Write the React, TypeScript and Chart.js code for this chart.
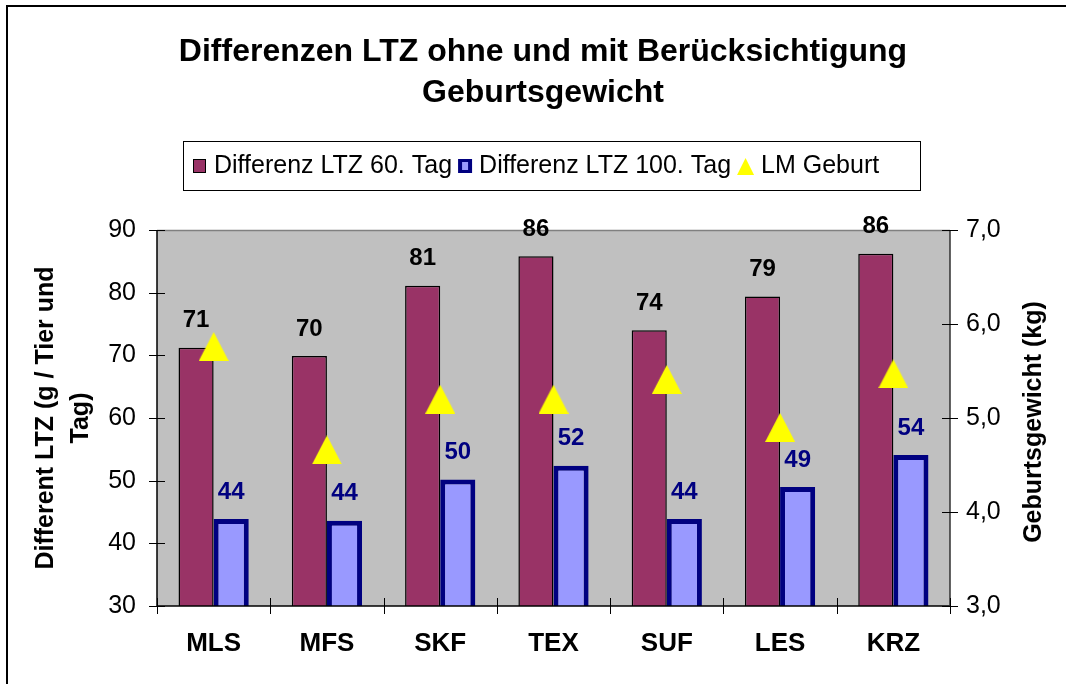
import React, { useEffect, useRef } from 'react';
import { Chart, registerables } from 'chart.js';

Chart.register(...registerables);

const categories = ['MLS', 'MFS', 'SKF', 'TEX', 'SUF', 'LES', 'KRZ'];
const diff60 = [71.2, 69.9, 81.1, 85.8, 74.0, 79.4, 86.2];
const diff100 = [43.9, 43.6, 50.2, 52.4, 43.9, 49.0, 54.1];
const lmGeburt = [5.76, 4.66, 5.2, 5.2, 5.41, 4.9, 5.47];
const seriesNames = ['Differenz LTZ 60. Tag', 'Differenz LTZ 100. Tag', 'LM Geburt'];
const titleLines = ['Differenzen LTZ ohne und mit Berücksichtigung', 'Geburtsgewicht'];
const leftTitleLines = ['Different LTZ (g / Tier und', 'Tag)'];
const rightTitle = 'Geburtsgewicht (kg)';
const leftMin = 30;
const leftMax = 90;
const leftStep = 10;
const rightMin = 3;
const rightMax = 7;
const rightStep = 1;

const FONT = '"Liberation Sans", Arial, Helvetica, sans-serif';
const MAROON = '#993366';
const LIGHTBLUE = '#9999FF';
const NAVY = '#000080';
const YELLOW = '#FFFF00';

const decorPlugin = {
  id: 'decor',
  beforeDraw(chart: any) {
    const { ctx, chartArea: a } = chart;
    ctx.save();
    ctx.fillStyle = '#ffffff';
    ctx.fillRect(0, 0, chart.width, chart.height);
    ctx.strokeStyle = '#000';
    ctx.lineWidth = 2;
    ctx.beginPath();
    ctx.moveTo(7, chart.height + 4);
    ctx.lineTo(7, 6);
    ctx.lineTo(chart.width + 4, 6);
    ctx.stroke();
    ctx.fillStyle = '#C0C0C0';
    ctx.fillRect(a.left, a.top, a.right - a.left, a.bottom - a.top);
    ctx.restore();
  },
  afterDatasetsDraw(chart: any) {
    const { ctx, chartArea: a, scales } = chart;
    ctx.save();
    ctx.strokeStyle = '#808080';
    ctx.lineWidth = 1.5;
    ctx.beginPath();
    ctx.moveTo(a.left, a.top + 0.5);
    ctx.lineTo(a.right, a.top + 0.5);
    ctx.stroke();
    ctx.strokeStyle = '#000';
    ctx.lineWidth = 1.5;
    ctx.beginPath();
    ctx.moveTo(a.left, a.top);
    ctx.lineTo(a.left, a.bottom);
    ctx.lineTo(a.right, a.bottom);
    ctx.stroke();
    ctx.strokeStyle = '#303030';
    ctx.beginPath();
    ctx.moveTo(a.right, a.top);
    ctx.lineTo(a.right, a.bottom);
    ctx.stroke();
    ctx.lineWidth = 1;
    ctx.strokeStyle = '#000';
    ctx.beginPath();
    scales.y.ticks.forEach((t: any) => {
      const py = Math.round(scales.y.getPixelForValue(t.value)) + 0.5;
      ctx.moveTo(a.left - 8, py);
      ctx.lineTo(a.left + 8, py);
    });
    scales.y1.ticks.forEach((t: any) => {
      const py = Math.round(scales.y1.getPixelForValue(t.value)) + 0.5;
      ctx.moveTo(a.right - 8, py);
      ctx.lineTo(a.right + 8, py);
    });
    const xs = scales.x;
    const n = categories.length;
    for (let i = 0; i <= n; i++) {
      let px;
      if (i === 0) px = a.left;
      else if (i === n) px = a.right;
      else px = (xs.getPixelForValue(i - 1) + xs.getPixelForValue(i)) / 2;
      px = Math.round(px) + 0.5;
      ctx.moveTo(px, a.bottom - 8);
      ctx.lineTo(px, a.bottom + 8);
    }
    ctx.stroke();

    ctx.font = `bold 24px ${FONT}`;
    ctx.textAlign = 'center';
    ctx.textBaseline = 'middle';
    const m0 = chart.getDatasetMeta(0);
    ctx.fillStyle = '#000';
    m0.data.forEach((bar: any, i: number) => {
      ctx.fillText(String(Math.round(diff60[i])), bar.x, bar.y - 27);
    });
    const m1 = chart.getDatasetMeta(1);
    ctx.fillStyle = NAVY;
    m1.data.forEach((bar: any, i: number) => {
      ctx.fillText(String(Math.round(diff100[i])), bar.x, bar.y - 27);
    });
    ctx.restore();
  },
  afterDraw(chart: any) {
    const { ctx } = chart;
    ctx.save();
    ctx.fillStyle = '#000';
    ctx.textAlign = 'center';
    ctx.textBaseline = 'middle';
    ctx.font = `bold 32px ${FONT}`;
    titleLines.forEach((line, i) => ctx.fillText(line, 543, 52 + i * 41));

    ctx.font = `bold 25px ${FONT}`;
    leftTitleLines.forEach((line, i) => {
      ctx.save();
      ctx.translate(46 + i * 35, 418);
      ctx.rotate(-Math.PI / 2);
      ctx.fillText(line, 0, 0);
      ctx.restore();
    });
    ctx.save();
    ctx.translate(1034, 422);
    ctx.rotate(-Math.PI / 2);
    ctx.fillText(rightTitle, 0, 0);
    ctx.restore();

    ctx.fillStyle = '#fff';
    ctx.fillRect(183, 141, 737, 49);
    ctx.strokeStyle = '#000';
    ctx.lineWidth = 1;
    ctx.strokeRect(183.5, 141.5, 737, 49);
    ctx.font = `25px ${FONT}`;
    ctx.textAlign = 'left';
    const cy = 166;
    let x = 193;
    ctx.fillStyle = MAROON;
    ctx.fillRect(x, cy - 7, 13, 14);
    ctx.strokeStyle = '#000';
    ctx.strokeRect(x + 0.5, cy - 6.5, 12, 13);
    x += 21;
    ctx.fillStyle = '#000';
    ctx.fillText(seriesNames[0], x, cy);
    x += ctx.measureText(seriesNames[0]).width + 6;
    ctx.fillStyle = NAVY;
    ctx.fillRect(x, cy - 7, 14, 14);
    ctx.fillStyle = LIGHTBLUE;
    ctx.fillRect(x + 4, cy - 4, 6, 8);
    x += 21;
    ctx.fillStyle = '#000';
    ctx.fillText(seriesNames[1], x, cy);
    x += ctx.measureText(seriesNames[1]).width + 6;
    ctx.fillStyle = YELLOW;
    ctx.beginPath();
    ctx.moveTo(x, cy + 9);
    ctx.lineTo(x + 8.5, cy - 8);
    ctx.lineTo(x + 17, cy + 9);
    ctx.closePath();
    ctx.fill();
    x += 24;
    ctx.fillStyle = '#000';
    ctx.fillText(seriesNames[2], x, cy);
    ctx.restore();
  },
};

export default function App() {
  const ref = useRef<HTMLCanvasElement | null>(null);

  useEffect(() => {
    const canvas = ref.current;
    if (!canvas) return;
    const tri = document.createElement('canvas');
    tri.width = 30;
    tri.height = 29;
    const tctx = tri.getContext('2d')!;
    tctx.fillStyle = YELLOW;
    tctx.beginPath();
    tctx.moveTo(0, 29);
    tctx.lineTo(15, 0);
    tctx.lineTo(30, 29);
    tctx.closePath();
    tctx.fill();

    const chart = new Chart(canvas, {
      type: 'bar',
      data: {
        labels: categories,
        datasets: [
          {
            type: 'bar',
            label: seriesNames[0],
            data: diff60,
            backgroundColor: MAROON,
            borderColor: '#000',
            borderWidth: 1.5,
            borderSkipped: false,
            yAxisID: 'y',
            categoryPercentage: 0.62,
            barPercentage: 1,
            order: 1,
          } as any,
          {
            type: 'bar',
            label: seriesNames[1],
            data: diff100,
            backgroundColor: LIGHTBLUE,
            borderColor: NAVY,
            borderWidth: 5,
            borderSkipped: false,
            yAxisID: 'y',
            categoryPercentage: 0.62,
            barPercentage: 1,
            order: 1,
          } as any,
          {
            type: 'line',
            label: seriesNames[2],
            data: lmGeburt,
            yAxisID: 'y1',
            showLine: false,
            pointStyle: tri,
            pointRadius: 15,
            pointHoverRadius: 15,
            backgroundColor: YELLOW,
            borderColor: YELLOW,
            order: 0,
          } as any,
        ],
      },
      options: {
        animation: false,
        responsive: false,
        events: [],
        layout: { padding: { top: 230, left: 0, right: 0, bottom: 0 } },
        plugins: {
          legend: { display: false },
          title: { display: false },
          tooltip: { enabled: false },
        },
        scales: {
          x: {
            grid: { display: false, drawTicks: false },
            border: { display: false },
            ticks: {
              color: '#000',
              font: { family: FONT, size: 26, weight: 'bold' },
              padding: 22,
              maxRotation: 0,
            },
            afterFit: (s: any) => {
              s.height = 78;
            },
          },
          y: {
            position: 'left',
            min: leftMin,
            max: leftMax,
            grid: { display: false, drawTicks: false },
            border: { display: false },
            ticks: {
              stepSize: leftStep,
              color: '#000',
              font: { family: FONT, size: 25 },
              padding: 21,
            },
            afterFit: (s: any) => {
              s.width = 157;
            },
          },
          y1: {
            position: 'right',
            min: rightMin,
            max: rightMax,
            grid: { display: false, drawTicks: false },
            border: { display: false },
            ticks: {
              stepSize: rightStep,
              color: '#000',
              font: { family: FONT, size: 25 },
              padding: 16,
              callback: (v: any) => Number(v).toFixed(1).replace('.', ','),
            },
            afterFit: (s: any) => {
              s.width = 116;
            },
          },
        },
      } as any,
      plugins: [decorPlugin],
    });
    return () => chart.destroy();
  }, []);

  return (
    <div style={{ position: 'fixed', left: 0, top: 0, width: 1066, height: 684 }}>
      <canvas ref={ref} width={1066} height={684} style={{ display: 'block' }} />
    </div>
  );
}
